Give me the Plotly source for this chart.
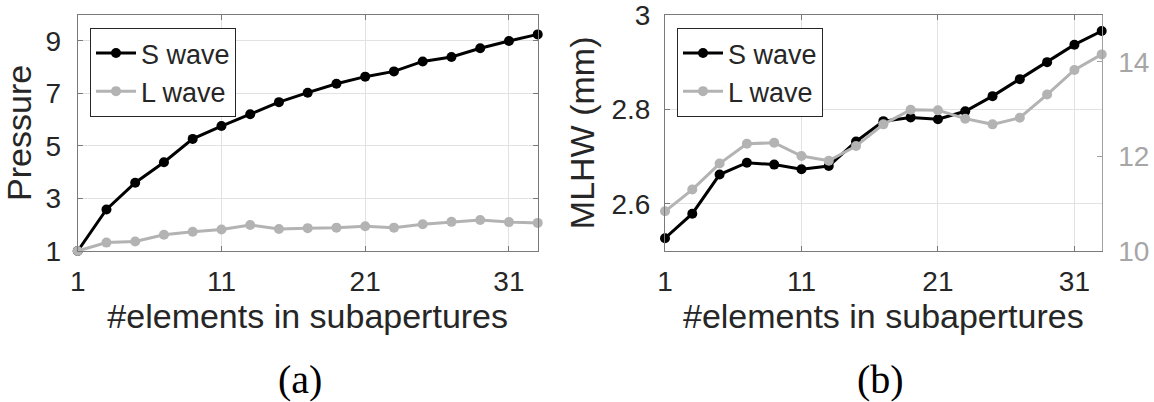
import plotly.graph_objects as go

# ---- data ----
elements = [1, 3, 5, 7, 9, 11, 13, 15, 17, 19, 21, 23, 25, 27, 29, 31, 33]

pressure_s = [1.0, 2.58, 3.6, 4.38, 5.27, 5.76, 6.21, 6.67, 7.03, 7.37, 7.64, 7.84, 8.22, 8.39, 8.72, 9.0, 9.25]
pressure_l = [1.0, 1.32, 1.36, 1.62, 1.73, 1.82, 1.99, 1.84, 1.87, 1.89, 1.94, 1.89, 2.02, 2.11, 2.18, 2.10, 2.07]

mlhw_s = [2.527, 2.579, 2.662, 2.687, 2.683, 2.673, 2.680, 2.732, 2.775, 2.783, 2.779, 2.796, 2.828, 2.864, 2.900, 2.937, 2.966]
mlhw_l = [10.84, 11.30, 11.85, 12.27, 12.29, 12.01, 11.91, 12.22, 12.68, 12.99, 12.98, 12.80, 12.68, 12.82, 13.31, 13.83, 14.16]

x_ticks = [1, 11, 21, 31]
p_ticks = [1, 3, 5, 7, 9]
m_ticks = [2.6, 2.8, 3.0]
m_ticktext = ["2.6", "2.8", "3"]
l_ticks = [10, 12, 14]

series_names = ["S wave", "L wave"]
panel_labels = ["(a)", "(b)"]
x_title = "#elements in subapertures"

# ---- styles ----
BLACK = "#000000"
GRAYLINE = "#b3b3b3"
AXC = "#262626"
BOXC = "#7a7a7a"
GRID = "#e2e2e2"
FONT = "Liberation Sans, Arial, sans-serif"
W, H = 1154, 402

fig = go.Figure()

def add(x, y, name, color, xa, ya, legend, size=10):
    fig.add_trace(go.Scatter(
        x=x, y=y, name=name, mode="lines+markers",
        line=dict(color=color, width=3),
        marker=dict(color=color, size=size),
        xaxis=xa, yaxis=ya, legend=legend, cliponaxis=False))

add(elements, pressure_s, series_names[0], BLACK, "x", "y", "legend")
add(elements, pressure_l, series_names[1], GRAYLINE, "x", "y", "legend")
add(elements, mlhw_s, series_names[0], BLACK, "x2", "y2", "legend2")
add(elements, mlhw_l, series_names[1], GRAYLINE, "x2", "y3", "legend2")

L1, R1 = 77.7 / W, 537.7 / W
L2, R2 = 665 / W, 1101.7 / W
B, T = 1 - 251 / H, 1 - 14.7 / H

common_x = dict(range=[1, 33], tickvals=x_ticks, ticks="inside", ticklen=5,
                tickcolor=BOXC, showline=True, linecolor=BOXC, linewidth=1,
                mirror="ticks", showgrid=True, gridcolor=GRID, gridwidth=1,
                zeroline=False, tickfont=dict(size=28, color=AXC, family=FONT),
                ticklabelstandoff=5, ticklabeloverflow="allow",
                title=dict(text=x_title, font=dict(size=34, color=AXC, family=FONT), standoff=8))

fig.update_layout(
    width=W, height=H,
    margin=dict(l=0, r=0, t=0, b=0, autoexpand=False),
    paper_bgcolor="white", plot_bgcolor="white",
    font=dict(family=FONT, color=AXC),
    xaxis=dict(domain=[L1, R1], anchor="y", **common_x),
    yaxis=dict(domain=[B, T], anchor="x", range=[1, 10], tickvals=p_ticks,
               ticks="inside", ticklen=5, tickcolor=BOXC, showline=True,
               linecolor=BOXC, linewidth=1, mirror="ticks", showgrid=True,
               gridcolor=GRID, zeroline=False, ticklabelstandoff=10,
               ticklabeloverflow="allow",
               tickfont=dict(size=28, color=AXC, family=FONT),
               title=dict(text="Pressure", font=dict(size=34, color=AXC, family=FONT), standoff=10)),
    xaxis2=dict(domain=[L2, R2], anchor="y2", **common_x),
    yaxis2=dict(domain=[B, T], anchor="x2", range=[2.5, 3.0005], tickvals=m_ticks,
                ticktext=m_ticktext, ticks="inside", ticklen=5, tickcolor=BOXC,
                showline=True, linecolor=BOXC, linewidth=1, mirror=False,
                showgrid=True, gridcolor=GRID, zeroline=False, ticklabelstandoff=8,
                ticklabeloverflow="allow",
                tickfont=dict(size=28, color=AXC, family=FONT),
                title=dict(text="MLHW (mm)", font=dict(size=34, color=AXC, family=FONT), standoff=6)),
    yaxis3=dict(overlaying="y2", anchor="x2", side="right", range=[10, 15],
                tickvals=l_ticks, ticks="inside", ticklen=5, tickcolor="#a0a0a0",
                showline=True, linecolor="#a0a0a0", linewidth=1, showgrid=False,
                zeroline=False, ticklabelstandoff=10, ticklabeloverflow="allow",
                tickfont=dict(size=28, color="#a6a6a6", family=FONT)),
    legend=dict(x=90 / W, y=1 - 28 / H, xanchor="left", yanchor="top",
                bgcolor="white", bordercolor=AXC, borderwidth=1,
                font=dict(size=27, color=AXC, family=FONT), tracegroupgap=0,
                itemwidth=40),
    legend2=dict(x=677 / W, y=1 - 28 / H, xanchor="left", yanchor="top",
                 bgcolor="white", bordercolor=AXC, borderwidth=1,
                 font=dict(size=27, color=AXC, family=FONT), tracegroupgap=0,
                 itemwidth=40),
    showlegend=True,
)

fig.add_annotation(text=panel_labels[0], x=300 / W, y=1 - 379 / H, xref="paper", yref="paper",
                   showarrow=False, xanchor="center", yanchor="middle",
                   font=dict(family="Liberation Serif, Times New Roman, serif", size=40, color="#000"))
fig.add_annotation(text=panel_labels[1], x=880 / W, y=1 - 379 / H, xref="paper", yref="paper",
                   showarrow=False, xanchor="center", yanchor="middle",
                   font=dict(family="Liberation Serif, Times New Roman, serif", size=40, color="#000"))

fig.write_html("out.html")
